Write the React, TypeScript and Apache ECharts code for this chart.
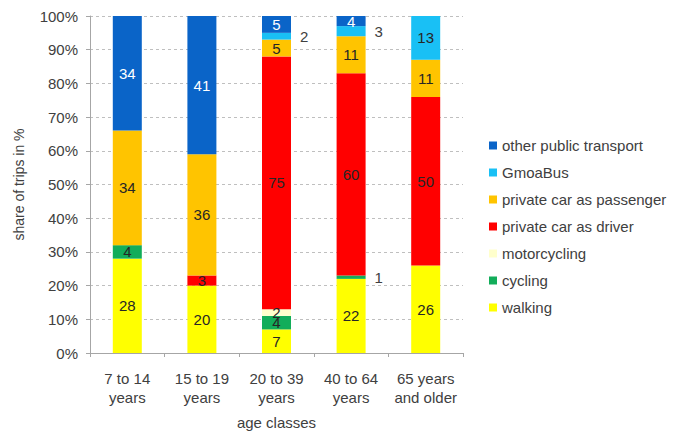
import React, { useEffect, useRef } from 'react';
import * as echarts from 'echarts';

const categories = ['7 to 14\nyears', '15 to 19\nyears', '20 to 39\nyears', '40 to 64\nyears', '65 years\nand older'];
const walking = [28, 20, 7, 22, 26];
const cycling = [4, 0, 4, 1, 0];
const motorcycling = [0, 0, 2, 0, 0];
const carDriver = [0, 3, 75, 60, 50];
const carPassenger = [34, 36, 5, 11, 11];
const gmoaBus = [0, 0, 2, 3, 13];
const otherPublic = [34, 41, 5, 4, 0];
const yMin = 0;
const yMax = 100;
const yStep = 10;
const outsideLabels = ['GmoaBus|2', 'GmoaBus|3', 'cycling|3'];

const FONT = '"Liberation Sans", Arial, sans-serif';
const TXT = '#404040';

const seriesDefs = [
  { name: 'walking', data: walking, color: '#FFFF00', labelColor: '#262626' },
  { name: 'cycling', data: cycling, color: '#12AD5A', labelColor: '#262626' },
  { name: 'motorcycling', data: motorcycling, color: '#FFFFCC', labelColor: '#262626' },
  { name: 'private car as driver', data: carDriver, color: '#FF0000', labelColor: '#262626' },
  { name: 'private car as passenger', data: carPassenger, color: '#FFC400', labelColor: '#262626' },
  { name: 'GmoaBus', data: gmoaBus, color: '#19C0F5', labelColor: '#262626' },
  { name: 'other public transport', data: otherPublic, color: '#0A64C8', labelColor: '#FFFFFF' },
];

export default function App() {
  const ref = useRef<HTMLDivElement>(null);
  useEffect(() => {
    if (!ref.current) return;
    const chart = echarts.init(ref.current, null, { renderer: 'svg' });
    const outside = new Set(outsideLabels);
    chart.setOption({
      animation: false,
      backgroundColor: '#FFFFFF',
      textStyle: { fontFamily: FONT },
      grid: { left: 90, right: 221, top: 16, bottom: 80, containLabel: false, outerBoundsMode: 'none' },
      legend: {
        orient: 'vertical',
        left: 484,
        top: 133,
        itemWidth: 8,
        itemHeight: 8,
        icon: 'rect',
        itemGap: 12,
        textStyle: { fontFamily: FONT, fontSize: 15, color: TXT, lineHeight: 15 },
        data: seriesDefs.map((s) => s.name).reverse(),
      },
      xAxis: {
        type: 'category',
        data: categories,
        name: 'age classes',
        nameLocation: 'middle',
        nameGap: 62,
        nameTextStyle: { fontFamily: FONT, fontSize: 15, color: TXT },
        axisLine: { lineStyle: { color: '#A6A6A6' } },
        axisTick: { show: true, length: 4, lineStyle: { color: '#A6A6A6' } },
        axisLabel: { interval: 0, fontFamily: FONT, fontSize: 15, color: TXT, lineHeight: 19, margin: 16 },
      },
      yAxis: {
        type: 'value',
        min: yMin,
        max: yMax,
        interval: yStep,
        name: 'share of trips in %',
        nameLocation: 'middle',
        nameGap: 64,
        nameTextStyle: { fontFamily: FONT, fontSize: 14, color: TXT },
        axisLine: { show: true, lineStyle: { color: '#A6A6A6' } },
        axisTick: { show: true, length: 4, lineStyle: { color: '#A6A6A6' } },
        axisLabel: { fontFamily: FONT, fontSize: 15, color: TXT, margin: 12, formatter: '{value}%' },
        splitLine: { show: true, lineStyle: { color: '#BFBFBF', type: [3, 3] } },
      },
      series: seriesDefs.map((s) => ({
        type: 'bar',
        name: s.name,
        stack: 'total',
        barWidth: 29,
        itemStyle: { color: s.color },
        label: {
          show: true,
          position: 'inside',
          color: s.labelColor,
          fontFamily: FONT,
          fontSize: 15,
          formatter: (p: any) => (p.value ? String(p.value) : ''),
        },
        data: s.data.map((v, i) =>
          outside.has(`${s.name}|${i}`)
            ? { value: v, label: { position: 'right', distance: 9, color: TXT } }
            : v
        ),
      })),
    });
    return () => chart.dispose();
  }, []);
  return (
    <div
      ref={ref}
      style={{ position: 'absolute', left: 0, top: 0, width: 684, height: 433 }}
    />
  );
}
